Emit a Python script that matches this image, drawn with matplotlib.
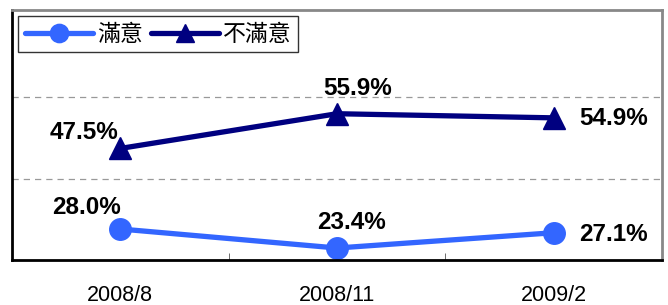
import matplotlib
matplotlib.use("Agg")
import matplotlib.pyplot as plt

plt.rcParams['font.family'] = ['Noto Sans CJK TC', 'DejaVu Sans']

# data
periods = ["2008/8", "2008/11", "2009/2"]
satisfied = [28.0, 23.4, 27.1]
dissatisfied = [47.5, 55.9, 54.9]

# label offsets in pixels (dx, dy)
sat_off = [(-34, 22), (15, 26), (60, -2)]
dis_off = [(-36, 16), (21, 25), (60, -1)]

fig = plt.figure(figsize=(6.68, 3.05), dpi=100)
ax = fig.add_axes([12/668, 45/305, 650/668, 250/305])

x = range(len(periods))
ax.plot(x, satisfied, color="#3366ff", lw=3.8, marker="o", ms=15.5,
        label="滿意", solid_capstyle="round")
ax.plot(x, dissatisfied, color="#000080", lw=3.8, marker="^", ms=15.5,
        label="不滿意", solid_capstyle="round")

for i in x:
    ax.annotate("%.1f%%" % satisfied[i], (i, satisfied[i]),
                xytext=sat_off[i], textcoords="offset pixels",
                ha="center", va="center", fontsize=17.5, fontweight="bold",
                family="Liberation Sans")
    ax.annotate("%.1f%%" % dissatisfied[i], (i, dissatisfied[i]),
                xytext=dis_off[i], textcoords="offset pixels",
                ha="center", va="center", fontsize=17.5, fontweight="bold",
                family="Liberation Sans")

ax.set_xlim(-0.5, 2.5)
ax.set_ylim(20.5, 81)
ax.set_yticks([])
for yv in [40, 60]:
    ax.axhline(yv, color="#999999", lw=0.9, ls=(0, (5, 4)), zorder=0)

ax.set_xticks(list(x))
ax.set_xticklabels(periods, family="Liberation Sans", fontsize=15.5)
ax.tick_params(axis="x", which="major", length=0, pad=18)
ax.set_xticks([0.5, 1.5], minor=True)
ax.tick_params(axis="x", which="minor", length=5, direction="in", color="#555555")

ax.spines["left"].set_color("black")
ax.spines["bottom"].set_color("black")
ax.spines["left"].set_linewidth(2)
ax.spines["bottom"].set_linewidth(2)
ax.spines["top"].set_color("#888888")
ax.spines["right"].set_color("#888888")
ax.spines["top"].set_linewidth(2)
ax.spines["right"].set_linewidth(2)

leg = ax.legend(loc="upper left", ncol=2, fontsize=16.5, frameon=True,
                fancybox=False, edgecolor="black", borderaxespad=0.25,
                handlelength=3.0, columnspacing=0.35, handletextpad=0.15,
                borderpad=0.3, markerscale=0.85)
leg.get_frame().set_linewidth(1)

fig.savefig("out.png", dpi=100)
